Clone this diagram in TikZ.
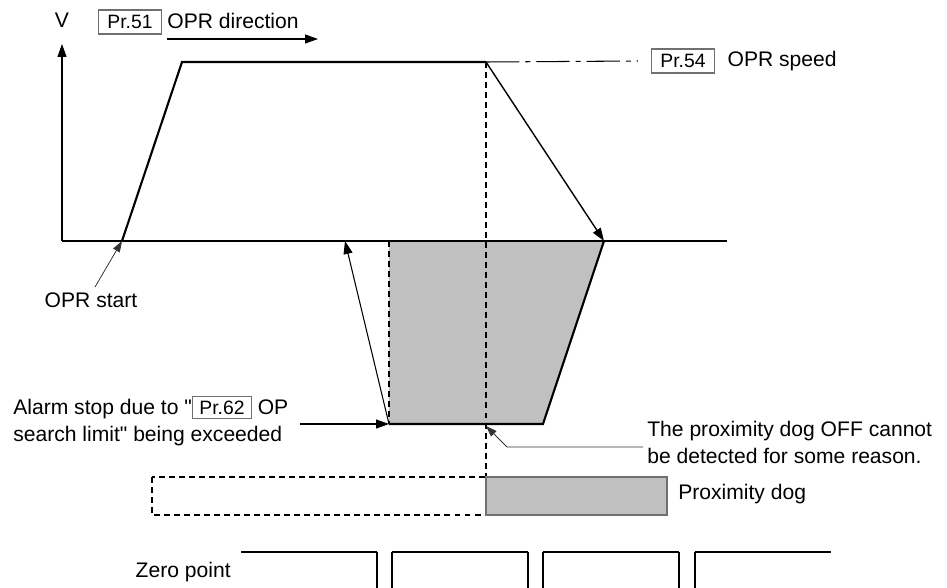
\documentclass[tikz,border=0pt]{standalone}
\usepackage{fontspec}
\setmainfont{Liberation Sans}[Ligatures=TeXOff]
\usepackage{xcolor}
\definecolor{dogfill}{HTML}{C0C0C0}
\definecolor{boxgray}{HTML}{707070}
\definecolor{leadgray}{HTML}{333333}
\usetikzlibrary{arrows.meta,positioning,calc}
\setlength{\fboxsep}{2pt}
\newcommand\prbox[1]{\fcolorbox{boxgray}{white}{\fontsize{11}{12}\selectfont\,Pr.#1\,}}

\begin{document}
\begin{tikzpicture}[x=0.02cm,y=-0.02cm,
  lbl/.style={font=\fontsize{12}{15.4}\selectfont, inner sep=0pt, align=left},
  prm/.style={draw=boxgray, line width=0.6pt, fill=white, inner sep=0pt,
              minimum width=1.26cm, minimum height=0.48cm,
              font=\fontsize{11}{12}\selectfont},
  axis/.style={line width=0.6pt},
  speed/.style={line width=1.2pt},
  arr/.style={-{Triangle[length=0.26cm,width=0.18cm]}, line width=0.6pt},
  lead/.style={-{Triangle[length=0.22cm,width=0.15cm]}, line width=0.45pt, draw=leadgray},
  dsh/.style={line width=0.6pt, dash pattern=on 3.4pt off 2.3pt}
]
  \useasboundingbox (0,0) rectangle (947,588);

  %% axes
  \coordinate (o)  at (62,241);
  \coordinate (vt) at (62,44);
  \coordinate (ht) at (727,241);
  \draw[arr] (o) -- (vt);
  \draw[axis] (o) -- (ht);
  \node[lbl] (v) at (62,20) {V};

  %% OPR direction
  \node[prm] (p51) at (130,22) {Pr.51};
  \node[lbl, anchor=west] (dir) at (167,21) {OPR direction};
  \coordinate (d0) at (167,39);
  \coordinate (d1) at (318,39);
  \draw[arr] (d0) -- (d1);

  %% speed profile
  \coordinate (s0) at (122,241);
  \coordinate (s1) at (182,62);
  \coordinate (s2) at (486,62);
  \coordinate (s3) at (604,241);

  %% travel after the dog (gray area)
  \coordinate (b0) at (389,241);
  \coordinate (b1) at (389,424);
  \coordinate (b2) at (543,424);
  \coordinate (r1) at (345,241);
  \fill[dogfill] (b0) -- (s3) -- (b2) -- (b1) -- cycle;
  \draw[dsh] (b0) -- (b1);
  \draw[axis] (o) -- (ht);

  \draw[speed] (s0) -- (s1) -- (s2);
  \draw[arr, line width=0.8pt] (s2) -- (s3);
  \draw[speed] (s3) -- (b2) -- (b1);
  \draw[arr] (b1) -- (r1);

  %% OPR speed
  \node[prm] (p54) at (683,61) {Pr.54};
  \node[lbl, right=7pt of p54] (spd) {OPR speed};
  \draw[axis, dash pattern=on 19pt off 3.4pt on 2.8pt off 3.4pt] (s2) -- ($(p54.west)+(-13,0)$);

  %% OPR start
  \node[lbl] (start) at (91,300) {OPR start};
  \coordinate (st0) at (95,287);
  \draw[lead] (st0) -- (s0);

  %% alarm stop
  \node[lbl, anchor=west] (alarm) at (13,421)
    {Alarm stop due to "\prbox{62} OP\\search limit" being exceeded};
  \coordinate (a0) at (300,424);
  \draw[arr] (a0) -- (b1);

  %% proximity dog
  \coordinate (g0) at (486,477);
  \draw[dsh] (s2) -- (g0);
  \draw[dsh] (152,477) rectangle (486,515);
  \draw[draw=boxgray, line width=0.8pt, fill=dogfill] (486,477) rectangle (667,515);
  \node[lbl, anchor=west] (dogl) at (678,494) {Proximity dog};

  %% dog OFF not detected
  \node[lbl, anchor=west] (off) at (647,442)
    {The proximity dog OFF cannot\\be detected for some reason.};
  \coordinate (l0) at (643,447);
  \coordinate (l1) at (507,447);
  \coordinate (l2) at (486,426);
  \draw[lead] (l0) -- (l1) -- (l2);

  %% zero point
  \node[lbl, anchor=east] (zero) at (231,572) {Zero point};
  \foreach \xa/\xb in {241/377, 392/528, 543/679, 695/831}
    \draw[speed] (\xa,552) -- (\xb,552);
  \foreach \xv in {377, 392, 528, 543, 679, 695}
    \draw[axis] (\xv,552) -- (\xv,588);
\end{tikzpicture}
\end{document}
